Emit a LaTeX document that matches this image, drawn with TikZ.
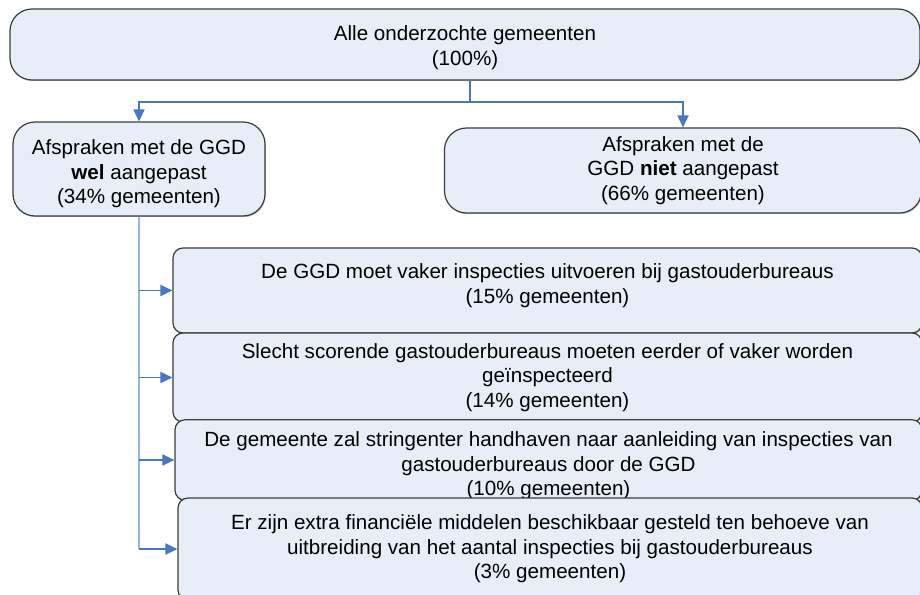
\documentclass[tikz,border=0pt]{standalone}
\usepackage{fontspec}
\setmainfont{Liberation Sans}
\usetikzlibrary{arrows.meta,positioning,calc,shadows}
\definecolor{boxfill}{RGB}{232,238,247}
\definecolor{boxline}{RGB}{60,60,60}
\definecolor{linkblue}{RGB}{74,120,192}
\definecolor{trunkblue}{RGB}{150,180,220}
\newcommand{\lift}[1]{\rule{0pt}{#1}}

\begin{document}
\begin{tikzpicture}[x=0.5pt, y=-0.5pt, >={Triangle[length=6pt,width=5.6pt]},
  box/.style={draw=boxline, line width=0.6pt, fill=boxfill, align=center, inner sep=0pt,
    font=\fontsize{10.3pt}{12.3pt}\selectfont,
    drop shadow={shadow xshift=0.4pt, shadow yshift=-0.6pt, opacity=0.45, fill=gray}},
  bigbox/.style={box, rounded corners=11pt},
  smallbox/.style={box, rounded corners=5pt},
  link/.style={draw=linkblue, line width=0.65pt},
  trunk/.style={draw=trunkblue, line width=0.75pt}]
  \clip (0,0) rectangle (920,594);
  \node[bigbox, minimum width=455pt, minimum height=35.5pt] (all) at (465,44.5)
    {\lift{10.5pt}Alle onderzochte gemeenten\\(100\%)};
  \node[bigbox, minimum width=126pt, minimum height=47pt] (wel) at (139,169)
    {\lift{12.5pt}Afspraken met de GGD\\\textbf{wel} aangepast\\(34\% gemeenten)};
  \node[bigbox, minimum width=238.5pt, minimum height=42.5pt] (niet) at (683,170.5)
    {Afspraken met de\\GGD \textbf{niet} aangepast\\(66\% gemeenten)};
  \node[smallbox, minimum width=374.5pt, minimum height=42.5pt] (vaker) at (547.5,290.5)
    {De GGD moet vaker inspecties uitvoeren bij gastouderbureaus\\(15\% gemeenten)\\[-5.3pt]};
  \node[smallbox, minimum width=374.5pt, minimum height=44.5pt] (slecht) at (547.5,377.5)
    {Slecht scorende gastouderbureaus moeten eerder of vaker worden\\ge\"inspecteerd\\(14\% gemeenten)};
  \node[smallbox, minimum width=373.5pt, minimum height=38pt] (handhaven) at (548.5,460)
    {\lift{13.5pt}De gemeente zal stringenter handhaven naar aanleiding van inspecties van\\gastouderbureaus door de GGD\\(10\% gemeenten)};
  \node[smallbox, minimum width=372pt, minimum height=51pt] (middelen) at (550,549)
    {Er zijn extra financi\"ele middelen beschikbaar gesteld ten behoeve van\\uitbreiding van het aantal inspecties bij gastouderbureaus\\(3\% gemeenten)};
  \coordinate (fork) at (470,102);
  \draw[link] (fork |- all.south) -- (fork);
  \draw[link,->] (fork) -| (wel.north);
  \draw[link,->] (fork) -| (niet.north);
  \draw[trunk] (wel.south) -- (wel.south |- middelen.west);
  \draw[link,->] (wel.south |- vaker.west) -- (vaker.west);
  \draw[link,->] (wel.south |- slecht.west) -- (slecht.west);
  \draw[link,->] (wel.south |- handhaven.west) -- (handhaven.west);
  \draw[link,->] (wel.south |- middelen.west) -- (middelen.west);
\end{tikzpicture}
\end{document}
